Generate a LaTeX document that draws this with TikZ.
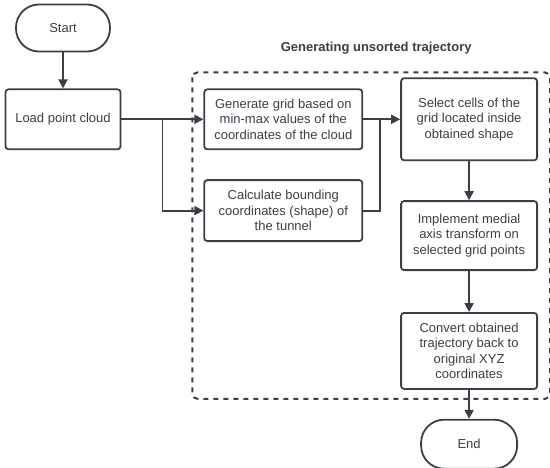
\documentclass[tikz,border=0pt]{standalone}
\usepackage{fontspec}
\setmainfont{Liberation Sans}
\usepackage{xcolor}
\usetikzlibrary{arrows.meta,positioning,calc,fit}
\definecolor{ink}{HTML}{3A3F47}
\tikzset{
	box/.style={draw=ink, line width=1.8pt, rounded corners=3pt, align=center,
		inner sep=2pt, text=ink, font=\fontsize{13}{15.5}\selectfont},
	term/.style={box, rounded corners=23pt},
	arrow/.style={-{Triangle[length=9pt,width=9pt]}, draw=ink, line width=1.8pt},
	line/.style={draw=ink, line width=1.8pt},
	frame/.style={draw=ink, line width=2pt, dash pattern=on 5pt off 5pt, rounded corners=5pt}
}
\begin{document}
\begin{tikzpicture}[x=1pt, y=1pt]
	\useasboundingbox (0,0) rectangle (550,-467);
	
	%% -- main column on the left ------------------------------------
	\node[term, minimum width=94pt, minimum height=47pt] (start) at (63,-28) {Start};
	\node[box, minimum width=115pt, minimum height=60pt,
	below=36pt of start] (load) {Load point cloud};
	
	%% -- grid / bounding boxes --------------------------------------
	\node[box, minimum width=158pt, minimum height=60pt,
	right=82pt of load] (grid)
	{Generate grid based on\\min-max values of the\\coordinates of the cloud};
	\node[box, minimum width=158pt, minimum height=61pt,
	below=29pt of grid] (bound)
	{Calculate bounding\\coordinates (shape) of\\the tunnel};
	
	%% -- right column -----------------------------------------------
	\node[box, minimum width=136pt, minimum height=82pt,
	right=37pt of grid] (select)
	{Select cells of the\\grid located inside\\obtained shape};
	\node[box, minimum width=136pt, minimum height=69pt,
	below=39pt of select] (medial)
	{Implement medial\\axis transform on\\selected grid points};
	\node[box, minimum width=136pt, minimum height=76pt,
	below=41pt of medial] (convert)
	{Convert obtained\\trajectory back to\\original XYZ\\coordinates};
	\node[term, minimum width=96pt, minimum height=49pt,
	below=29pt of convert] (end) {End};
	
	%% -- dashed group with its title ---------------------------------
	\coordinate (fa) at ($(grid.west|-select.north)+(-11,5)$);
	\coordinate (fb) at ($(select.east|-convert.south)+(12,-9)$);
	\draw[frame] (fa) rectangle (fb);
	\node[font=\fontsize{13}{15.5}\selectfont\bfseries, text=ink, anchor=base]
	(title) at ($(fa)!0.5!(fb|-fa)+(5,21)$) {Generating unsorted trajectory};
	
	%% -- connectors -------------------------------------------------
	\coordinate (split) at ($(load.east)!0.5!(grid.west)$);
	\coordinate (merge) at ($(grid.east)!0.45!(select.west)$);
	\draw[arrow] (start) -- (load);
	\draw[arrow] (load.east) -- (grid.west);
	\draw[arrow] (split) |- (bound.west);
	\draw[arrow] (grid.east) -- (select.west);
	\draw[line] (bound.east) -| (merge);
	\draw[arrow] (select) -- (medial);
	\draw[arrow] (medial) -- (convert);
	\draw[arrow] (convert) -- (end);
\end{tikzpicture}
\end{document}
